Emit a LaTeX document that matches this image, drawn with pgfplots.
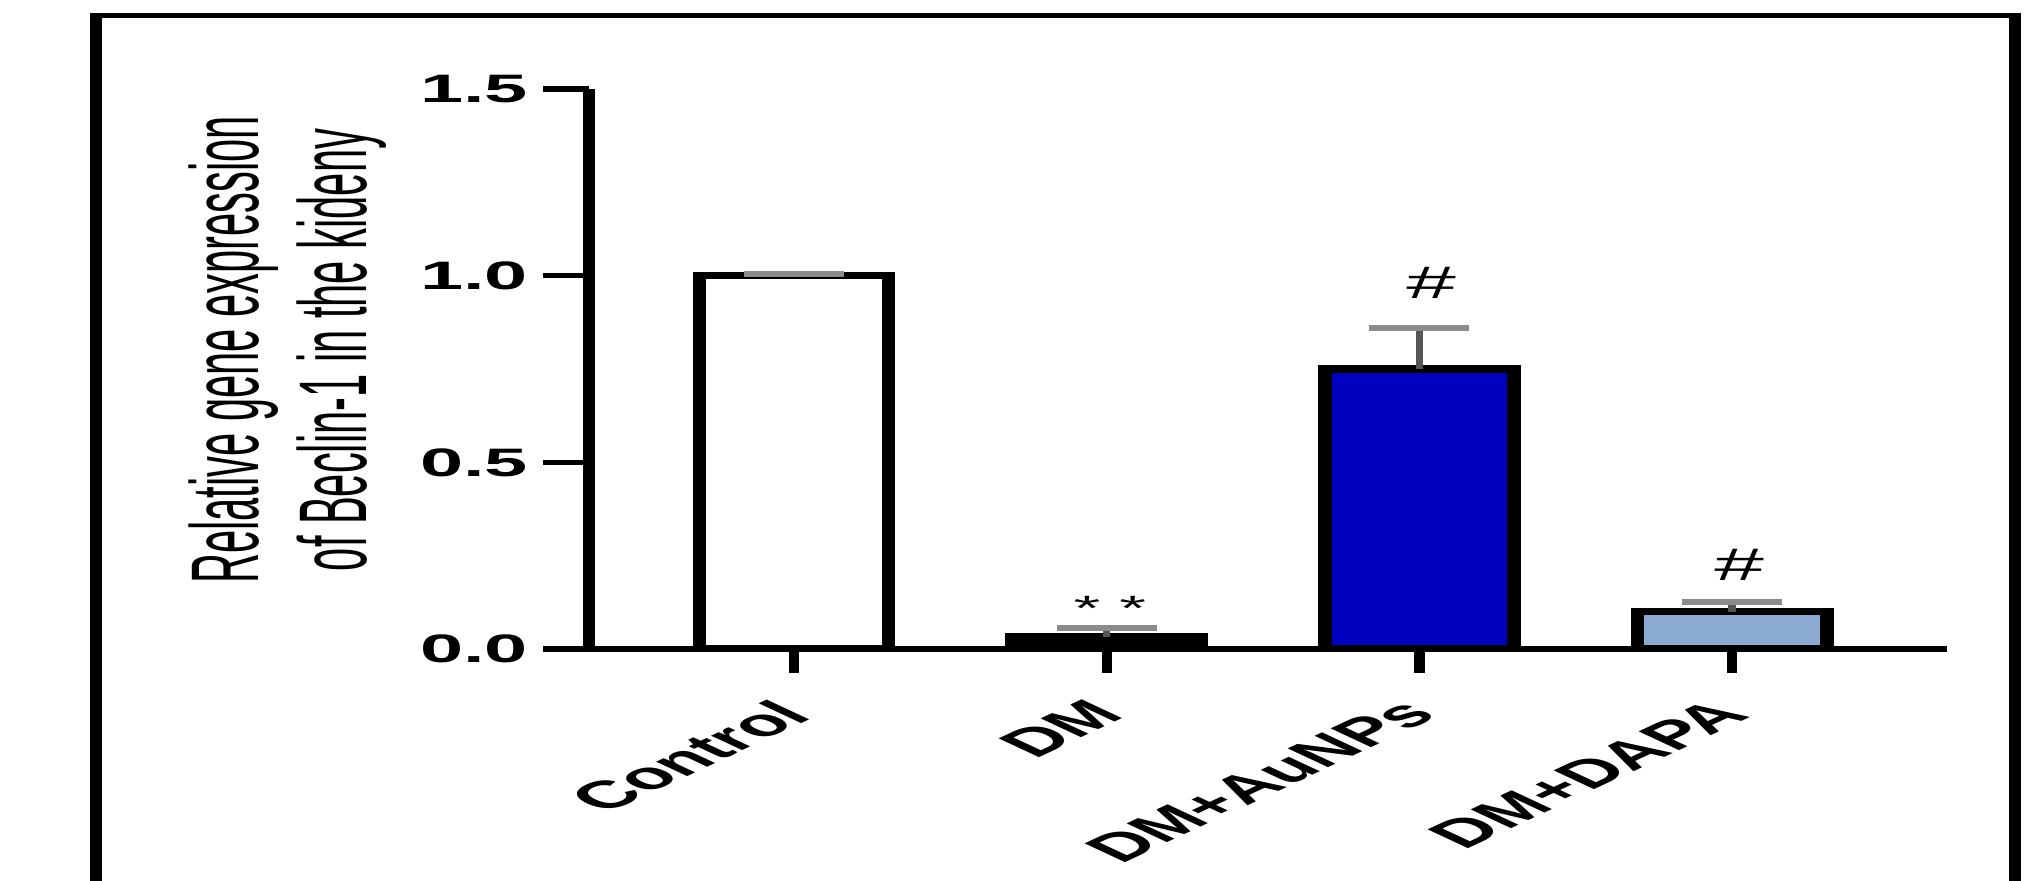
\documentclass[border=0pt]{standalone}
\usepackage{fontspec}
\setmainfont{Liberation Sans}
\usepackage{pgfplots}
\pgfplotsset{compat=1.18}
\definecolor{aublue}{RGB}{0,0,192}
\definecolor{dapablue}{RGB}{139,170,210}
\definecolor{errstem}{RGB}{85,85,85}
\definecolor{errcap}{RGB}{140,140,140}
\newcommand{\xl}[1]{\scalebox{1.1}[1]{\rotatebox{45}{#1}}}
\begin{document}
\begin{tikzpicture}
\path[use as bounding box] (0,0) rectangle (20.4cm,8.8cm);
\begin{scope}[transform canvas={xscale=1.95}]
\draw[line width=1.7pt] (0.492cm,-1cm) -- (0.492cm,8.645cm) -- (10.333cm,8.645cm) -- (10.333cm,-1cm);
\begin{axis}[
  at={(3.02cm,2.31cm)}, anchor=south west,
  scale only axis, width=6.964cm, height=5.6cm,
  xmin=-0.656, xmax=3.687, ymin=0, ymax=1.5,
  axis lines=left, axis line style={-, line width=1.8pt, black},
  xtick={0,1,2,3}, xticklabels={\xl{Control},\xl{DM},\xl{DM+AuNPs},\xl{DM+DAPA}},
  ytick={0,0.5,1,1.5}, yticklabels={0.0,0.5,1.0,1.5},
  tick align=outside, major tick length=0.235cm,
  tick style={line width=1.5pt, black},
  xticklabel style={anchor=north east, inner sep=0pt, xshift=0.11cm, yshift=-0.245cm, font=\bfseries\fontsize{11}{13}\selectfont},
  yticklabel style={anchor=east, inner sep=0pt, xshift=-0.07cm, font=\bfseries\fontsize{11.3}{13}\selectfont},
  ylabel={\scalebox{1}[1.185]{\begin{tabular}{@{}c@{}}Relative gene expression\\of Beclin-1 in the kideny\end{tabular}}},
  ylabel style={at={(axis description cs:-0.2197,0.534)}, anchor=center, font=\fontsize{11.85}{13.3}\selectfont},
  ybar, bar width=0.605,
  every axis plot/.append style={bar shift=0pt, draw=black, line width=2pt},
  error bars/error bar style={line width=1.1pt, draw=errstem},
  error bars/error mark options={rotate=90, mark size=0.256cm, line width=1.6pt, draw=errcap},
]
\addplot[fill=white, error bars/.cd, y dir=plus, y explicit] coordinates {(0,1.0) +- (0,0.004)};
\addplot[fill=black, error bars/.cd, y dir=plus, y explicit] coordinates {(1,0.033) +- (0,0.023)};
\addplot[fill=aublue, error bars/.cd, y dir=plus, y explicit] coordinates {(2,0.75) +- (0,0.11)};
\addplot[fill=dapablue, error bars/.cd, y dir=plus, y explicit] coordinates {(3,0.10) +- (0,0.026)};
\node[font=\itshape\fontsize{13}{13}\selectfont] at (axis cs:2.034,0.98) {\#};
\node[font=\itshape\fontsize{13}{13}\selectfont] at (axis cs:3.02,0.225) {\#};
\node[font=\fontsize{10}{10}\selectfont] at (axis cs:1.01,0.109) {* *};
\end{axis}
\end{scope}
\end{tikzpicture}
\end{document}
